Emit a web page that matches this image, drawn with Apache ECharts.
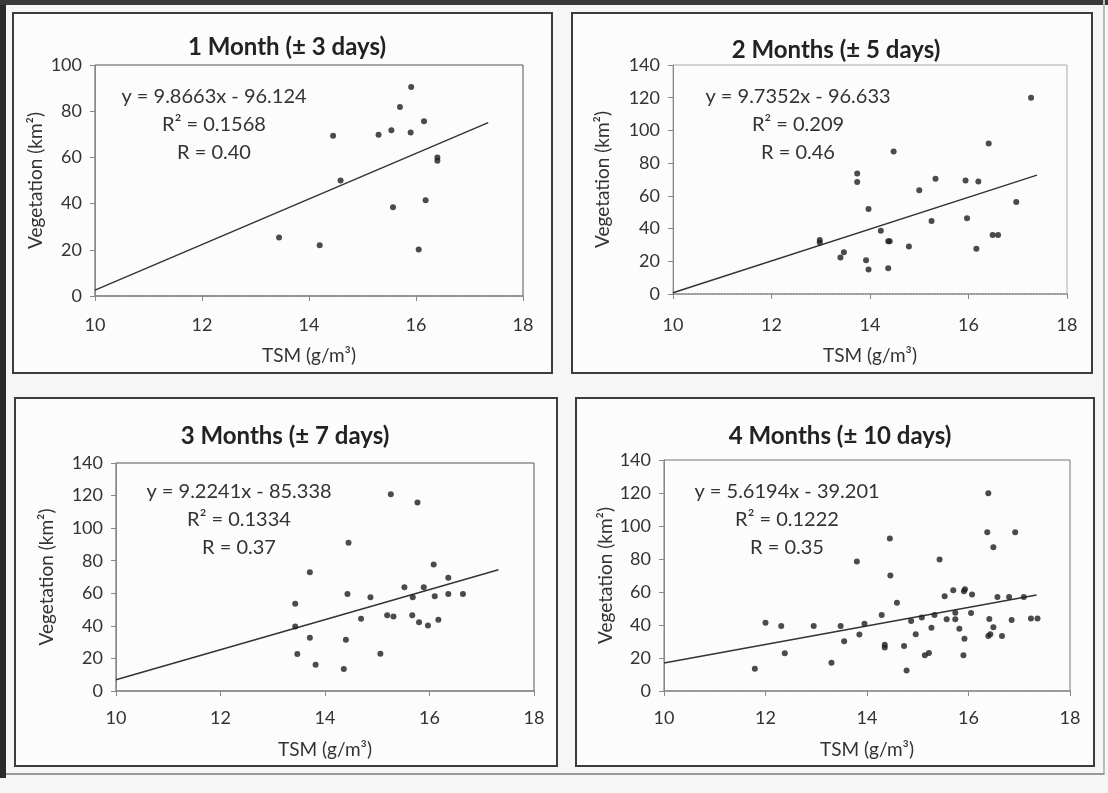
<!DOCTYPE html>
<html><head><meta charset="utf-8">
<script src="https://cdn.jsdelivr.net/npm/echarts@6/dist/echarts.min.js"></script>
<style>html,body{margin:0;padding:0;background:#f6f6f6;}#c{width:1108px;height:793px;}</style>
</head><body><div id="c"></div>
<script>
// ---- data ----
const panelTitles = ['1 Month (± 3 days)', '2 Months (± 5 days)', '3 Months (± 7 days)', '4 Months (± 10 days)'];
const xTicks = [10, 12, 14, 16, 18];
const yMax = [100, 140, 140, 140];
const p1X = [15.91,15.70,16.15,14.45,15.30,15.54,15.90,16.40,16.40,14.59,15.57,16.18,13.44,14.20,16.05];
const p1Y = [90.5,81.8,75.6,69.4,69.8,71.7,70.8,60.0,58.5,50.0,38.4,41.5,25.3,22.0,20.1];
const p2X = [17.27,16.41,14.48,13.74,13.74,15.33,15.94,16.20,15.00,16.97,13.97,15.25,15.97,14.22,12.98,12.98,14.37,14.40,16.49,16.60,14.79,16.16,13.47,13.40,13.92,13.97,14.37];
const p2Y = [120.0,92.0,87.1,73.7,68.4,70.5,69.4,68.8,63.4,56.2,52.0,44.7,46.3,38.6,33.0,31.5,32.3,32.3,36.1,36.1,29.0,27.6,25.6,22.3,20.7,15.0,15.8];
const p3X = [15.26,15.77,14.45,13.71,16.08,16.36,15.52,15.89,14.43,14.87,15.68,16.10,16.36,16.64,13.43,15.19,15.31,15.67,14.69,15.80,16.17,15.97,13.43,13.71,14.40,13.47,15.06,13.82,14.36];
const p3Y = [120.8,115.7,91.0,72.9,77.6,69.6,63.7,63.7,59.6,57.6,57.6,58.2,59.6,59.6,53.5,46.5,45.7,46.5,44.3,42.2,43.7,40.2,39.6,32.7,31.4,22.7,22.9,16.1,13.5];
const p4X = [16.39,16.37,16.92,14.45,16.49,13.80,15.43,14.46,15.53,15.70,15.91,15.93,16.07,16.57,16.80,17.09,14.59,14.29,12.00,12.31,12.95,13.48,13.95,14.87,15.08,15.33,15.57,15.74,15.74,16.05,16.41,16.85,17.23,17.36,15.27,15.82,16.49,13.55,13.85,14.96,15.92,16.43,16.39,16.66,14.35,14.35,14.73,12.38,15.14,15.22,15.90,13.30,11.79,14.78];
const p4Y = [119.9,96.2,96.2,92.4,87.1,78.5,79.7,70.0,57.5,61.0,60.4,61.6,58.5,56.9,56.9,56.9,53.5,46.1,41.4,39.4,39.4,39.4,40.8,42.5,44.5,46.1,43.5,43.5,47.5,47.3,43.7,43.1,43.9,43.9,38.4,37.8,38.6,30.2,34.2,34.4,31.6,34.4,33.4,33.4,28.0,26.4,27.2,22.9,21.7,23.1,21.7,17.1,13.5,12.5];
const slopes = [9.8663, 9.7352, 9.2241, 5.6194];
const intercepts = [-96.124, -96.633, -85.338, -39.201];
const r2Text = ['R² = 0.1568', 'R² = 0.209', 'R² = 0.1334', 'R² = 0.1222'];
const rText = ['R = 0.40', 'R = 0.46', 'R = 0.37', 'R = 0.35'];
const trendStart = [10, 10, 10, 10];
const trendEnd = [17.35, 17.39, 17.32, 17.34];
const xs = [p1X, p2X, p3X, p4X];
const ys = [p1Y, p2Y, p3Y, p4Y];

// ---- layout ----
const FONT = 'Lato, "Open Sans", sans-serif';
const grids = [
  {left: 95, top: 65, width: 428, height: 231},
  {left: 673, top: 65, width: 394, height: 229},
  {left: 116, top: 463, width: 418, height: 228},
  {left: 664, top: 460, width: 406, height: 231}
];
const boxes = [
  {x: 13, y: 13, w: 539, h: 360},
  {x: 572, y: 13, w: 520, h: 360},
  {x: 15, y: 398, w: 542, h: 368},
  {x: 576, y: 398, w: 518, h: 368}
];
const titlePos = [{x: 282, y: 44}, {x: 831, y: 47}, {x: 280, y: 433}, {x: 835, y: 433}];
const eqPos = [{x: 214, y: 97}, {x: 798, y: 97}, {x: 239, y: 492}, {x: 787, y: 492}];
const yNameGap = [50, 61, 60, 44];
const xNameGap = [50, 52, 49, 49];
const xLabelMargin = [20, 22, 18, 18];
const borderCol = ['#555', '#aaa', '#555', '#777'];

const graphic = [
  {type: 'rect', shape: {x: 0, y: 0, width: 6, height: 778}, style: {fill: '#2a2a2a'}, z: -5},
  {type: 'rect', shape: {x: 0, y: 0, width: 1108, height: 5}, style: {fill: '#3a3a3a'}, z: -5},
  {type: 'rect', shape: {x: 1103, y: 0, width: 2, height: 775}, style: {fill: '#bbb'}, z: -5},
  {type: 'rect', shape: {x: 6, y: 773, width: 1098, height: 2}, style: {fill: '#999'}, z: -5}
];
boxes.forEach(b => graphic.push({type: 'rect', shape: {x: b.x, y: b.y, width: b.w, height: b.h},
  style: {fill: '#fcfcfc', stroke: '#3c3c3c', lineWidth: 2}, z: -4}));
eqPos.forEach((p, i) => {
  const eq = 'y = ' + slopes[i] + 'x - ' + Math.abs(intercepts[i]);
  [eq, r2Text[i], rText[i]].forEach((t, k) => graphic.push({type: 'text', x: p.x, y: p.y + k * 28,
    style: {text: t, fontFamily: FONT, fontSize: 20, fill: '#333', textAlign: 'center', textVerticalAlign: 'middle'}, z: 10}));
});

const option = {
  backgroundColor: '#f6f6f6',
  animation: false,
  title: panelTitles.map((t, i) => ({text: t, left: titlePos[i].x, top: titlePos[i].y - 14, textAlign: 'center',
    textStyle: {fontFamily: FONT, fontSize: 24, fontWeight: 'bold', color: '#222'}})),
  grid: grids.map((g, i) => Object.assign({show: true, borderColor: borderCol[i], borderWidth: 1, backgroundColor: 'transparent'}, g)),
  graphic: graphic,
  xAxis: grids.map((g, i) => ({
    type: 'value', gridIndex: i, min: xTicks[0], max: xTicks[xTicks.length - 1], interval: 2,
    name: 'TSM (g/m³)', nameLocation: 'middle', nameGap: xNameGap[i],
    nameTextStyle: {fontFamily: FONT, fontSize: 19, color: '#333'},
    axisLine: {show: true, lineStyle: {color: '#888', type: 'dotted', width: 1.5}},
    axisTick: {show: true, length: 5, inside: false, lineStyle: {color: '#888'}},
    axisLabel: {fontFamily: FONT, fontSize: 18, color: '#333', margin: xLabelMargin[i]},
    splitLine: {show: false}
  })),
  yAxis: grids.map((g, i) => ({
    type: 'value', gridIndex: i, min: 0, max: yMax[i], interval: 20,
    name: 'Vegetation (km²)', nameLocation: 'middle', nameGap: yNameGap[i], nameRotate: 90,
    nameTextStyle: {fontFamily: FONT, fontSize: 19, color: '#333'},
    axisLine: {show: true, lineStyle: {color: '#888', width: 1}},
    axisTick: {show: true, length: 5, lineStyle: {color: '#888'}},
    axisLabel: {fontFamily: FONT, fontSize: 18, color: '#333', margin: 13},
    splitLine: {show: false}
  })),
  series: []
};
for (let i = 0; i < 4; i++) {
  const n = Math.min(xs[i].length, ys[i].length);
  const pts = [];
  for (let k = 0; k < n; k++) pts.push([xs[i][k], ys[i][k]]);
  option.series.push({type: 'scatter', xAxisIndex: i, yAxisIndex: i, data: pts, symbol: 'circle', symbolSize: 6,
    itemStyle: {color: '#1e1e1e'}, z: 5});
  const f = x => slopes[i] * x + intercepts[i];
  option.series.push({type: 'line', xAxisIndex: i, yAxisIndex: i, showSymbol: false, symbol: 'none',
    data: [[trendStart[i], f(trendStart[i])], [trendEnd[i], f(trendEnd[i])]],
    lineStyle: {color: '#333', width: 1.5}, z: 4});
}
const chart = echarts.init(document.getElementById('c'), null, {renderer: 'canvas'});
chart.setOption(option);
</script></body></html>
